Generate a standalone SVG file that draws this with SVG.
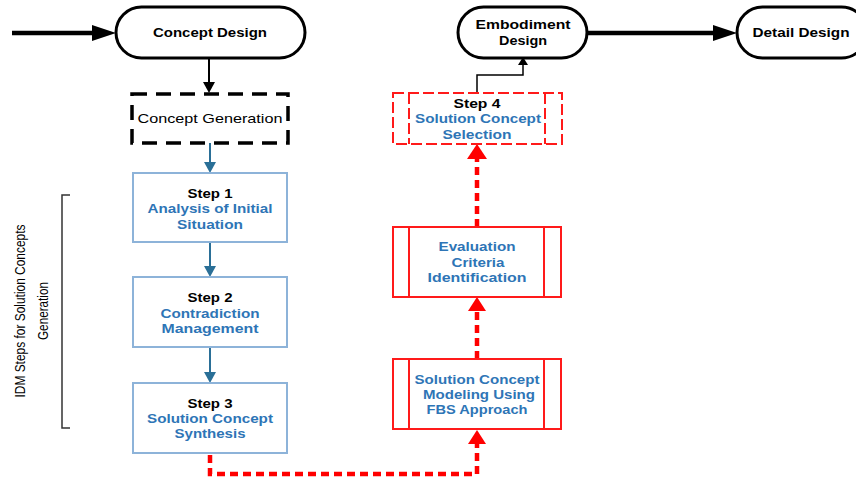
<svg xmlns="http://www.w3.org/2000/svg" width="856" height="482" viewBox="0 0 856 482">
<style>
.bg{fill:#ffffff}
.term{fill:#ffffff;stroke:#000000;stroke-width:3}
.step{fill:#ffffff;stroke:#8db3d9;stroke-width:2}
.redbox{fill:#ffffff;stroke:#ff1a1a;stroke-width:2}
.reddash{fill:#ffffff;stroke:#ff1a1a;stroke-width:2;stroke-dasharray:11 4}
.reddashl{fill:none;stroke:#ff1a1a;stroke-width:2;stroke-dasharray:11 4}
.gen{fill:#ffffff;stroke:#000000;stroke-width:3.5;stroke-dasharray:15 9}
.t{font-family:"Liberation Sans",Arial,sans-serif;font-size:13px;text-anchor:middle}
.b{font-weight:bold;fill:#000000}
.bl{font-weight:bold;fill:#2e75b6}
.n{fill:#000000}
.blk{stroke:#000000;fill:none}
.blue{stroke:#2a6f97;stroke-width:2;fill:none}
.rdot{stroke:#ff0000;stroke-width:4.5;fill:none;stroke-dasharray:8 5}
.side{font-family:"Liberation Sans",Arial,sans-serif;font-size:14px;text-anchor:middle;fill:#000000}
</style>
<rect class="bg" x="0" y="0" width="856" height="482"/>

<g id="connectors">
  <line class="blk" x1="12" y1="33" x2="94" y2="33" stroke-width="4.5"/>
  <polygon points="92,25 116,33 92,41" fill="#000"/>
  <line class="blk" x1="209" y1="58" x2="209" y2="84" stroke-width="2"/>
  <polygon points="203,82 215,82 209,93" fill="#000"/>
  <line class="blue" x1="210" y1="143" x2="210" y2="164"/>
  <polygon points="204,162 216,162 210,173" fill="#2a6f97"/>
  <line class="blue" x1="210" y1="242" x2="210" y2="268"/>
  <polygon points="204,266 216,266 210,277" fill="#2a6f97"/>
  <line class="blue" x1="210" y1="347" x2="210" y2="374"/>
  <polygon points="204,372 216,372 210,383" fill="#2a6f97"/>
  <path class="rdot" d="M210,455 V474 H477 V444"/>
  <polygon points="468,444 486,444 477,430" fill="#ff0000"/>
  <line class="rdot" x1="477" y1="359" x2="477" y2="311"/>
  <polygon points="468,311 486,311 477,297" fill="#ff0000"/>
  <line class="rdot" x1="477" y1="227" x2="477" y2="158"/>
  <polygon points="467,159 487,159 477,144" fill="#ff0000"/>
  <path class="blk" stroke-width="1.5" d="M477,93 V75 H523 V64"/>
  <polygon points="518,65 528,65 523,57" fill="#000"/>
  <line class="blk" x1="587" y1="33" x2="715" y2="33" stroke-width="4.5"/>
  <polygon points="713,25 737,33 713,41" fill="#000"/>
</g>

<g id="concept-design">
  <rect class="term" x="116" y="7" width="189" height="51" rx="25.5"/>
  <text class="t b" x="210" y="37" textLength="114" lengthAdjust="spacingAndGlyphs">Concept Design</text>
</g>

<g id="embodiment-design">
  <rect class="term" x="458" y="7" width="129" height="51" rx="25.5"/>
  <text class="t b" x="523" y="29" textLength="95" lengthAdjust="spacingAndGlyphs">Embodiment</text>
  <text class="t b" x="523" y="45" textLength="48" lengthAdjust="spacingAndGlyphs">Design</text>
</g>

<g id="detail-design">
  <rect class="term" x="737" y="7" width="130" height="51" rx="25.5"/>
  <text class="t b" x="801" y="37" textLength="97" lengthAdjust="spacingAndGlyphs">Detail Design</text>
</g>

<g id="concept-generation">
  <rect class="gen" x="132" y="94" width="156" height="49"/>
  <text class="t n" x="210" y="123" font-size="14" textLength="145" lengthAdjust="spacingAndGlyphs">Concept Generation</text>
</g>

<g id="step1">
  <rect class="step" x="133" y="173" width="154" height="69"/>
  <text class="t b" x="210" y="198" textLength="45" lengthAdjust="spacingAndGlyphs">Step 1</text>
  <text class="t bl" x="210" y="213" textLength="125" lengthAdjust="spacingAndGlyphs">Analysis of Initial</text>
  <text class="t bl" x="210" y="229" textLength="66" lengthAdjust="spacingAndGlyphs">Situation</text>
</g>

<g id="step2">
  <rect class="step" x="133" y="277" width="154" height="70"/>
  <text class="t b" x="210" y="302" textLength="45" lengthAdjust="spacingAndGlyphs">Step 2</text>
  <text class="t bl" x="210" y="318" textLength="99" lengthAdjust="spacingAndGlyphs">Contradiction</text>
  <text class="t bl" x="210" y="333" textLength="97" lengthAdjust="spacingAndGlyphs">Management</text>
</g>

<g id="step3">
  <rect class="step" x="133" y="383" width="154" height="70"/>
  <text class="t b" x="210" y="408" textLength="45" lengthAdjust="spacingAndGlyphs">Step 3</text>
  <text class="t bl" x="210" y="423" textLength="126" lengthAdjust="spacingAndGlyphs">Solution Concept</text>
  <text class="t bl" x="210" y="438" textLength="71" lengthAdjust="spacingAndGlyphs">Synthesis</text>
</g>

<g id="step4">
  <rect class="reddash" x="393" y="93" width="169" height="51"/>
  <line class="reddashl" x1="409" y1="93" x2="409" y2="144"/>
  <line class="reddashl" x1="545" y1="93" x2="545" y2="144"/>
  <text class="t b" x="477" y="108" textLength="47" lengthAdjust="spacingAndGlyphs">Step 4</text>
  <text class="t bl" x="478" y="123" textLength="126" lengthAdjust="spacingAndGlyphs">Solution Concept</text>
  <text class="t bl" x="477" y="139" textLength="69" lengthAdjust="spacingAndGlyphs">Selection</text>
</g>

<g id="evaluation">
  <rect class="redbox" x="393" y="227" width="168" height="70"/>
  <line stroke="#ff1a1a" stroke-width="2" x1="409" y1="227" x2="409" y2="297"/>
  <line stroke="#ff1a1a" stroke-width="2" x1="544" y1="227" x2="544" y2="297"/>
  <text class="t bl" x="477" y="251" textLength="77" lengthAdjust="spacingAndGlyphs">Evaluation</text>
  <text class="t bl" x="478" y="267" textLength="53" lengthAdjust="spacingAndGlyphs">Criteria</text>
  <text class="t bl" x="477" y="282" textLength="99" lengthAdjust="spacingAndGlyphs">Identification</text>
</g>

<g id="modeling">
  <rect class="redbox" x="393" y="359" width="168" height="70"/>
  <line stroke="#ff1a1a" stroke-width="2" x1="409" y1="359" x2="409" y2="429"/>
  <line stroke="#ff1a1a" stroke-width="2" x1="544" y1="359" x2="544" y2="429"/>
  <text class="t bl" x="477" y="384" textLength="125" lengthAdjust="spacingAndGlyphs">Solution Concept</text>
  <text class="t bl" x="479" y="399" textLength="112" lengthAdjust="spacingAndGlyphs">Modeling Using</text>
  <text class="t bl" x="477" y="414" textLength="101" lengthAdjust="spacingAndGlyphs">FBS Approach</text>
</g>

<g id="idm-bracket">
  <path d="M70,195 H62 V428 H70" fill="none" stroke="#333333" stroke-width="1.5"/>
  <text class="side" transform="translate(25,311) rotate(-90)" textLength="173" lengthAdjust="spacingAndGlyphs">IDM Steps for Solution Concepts</text>
  <text class="side" transform="translate(48,311) rotate(-90)" textLength="58" lengthAdjust="spacingAndGlyphs">Generation</text>
</g>
</svg>
